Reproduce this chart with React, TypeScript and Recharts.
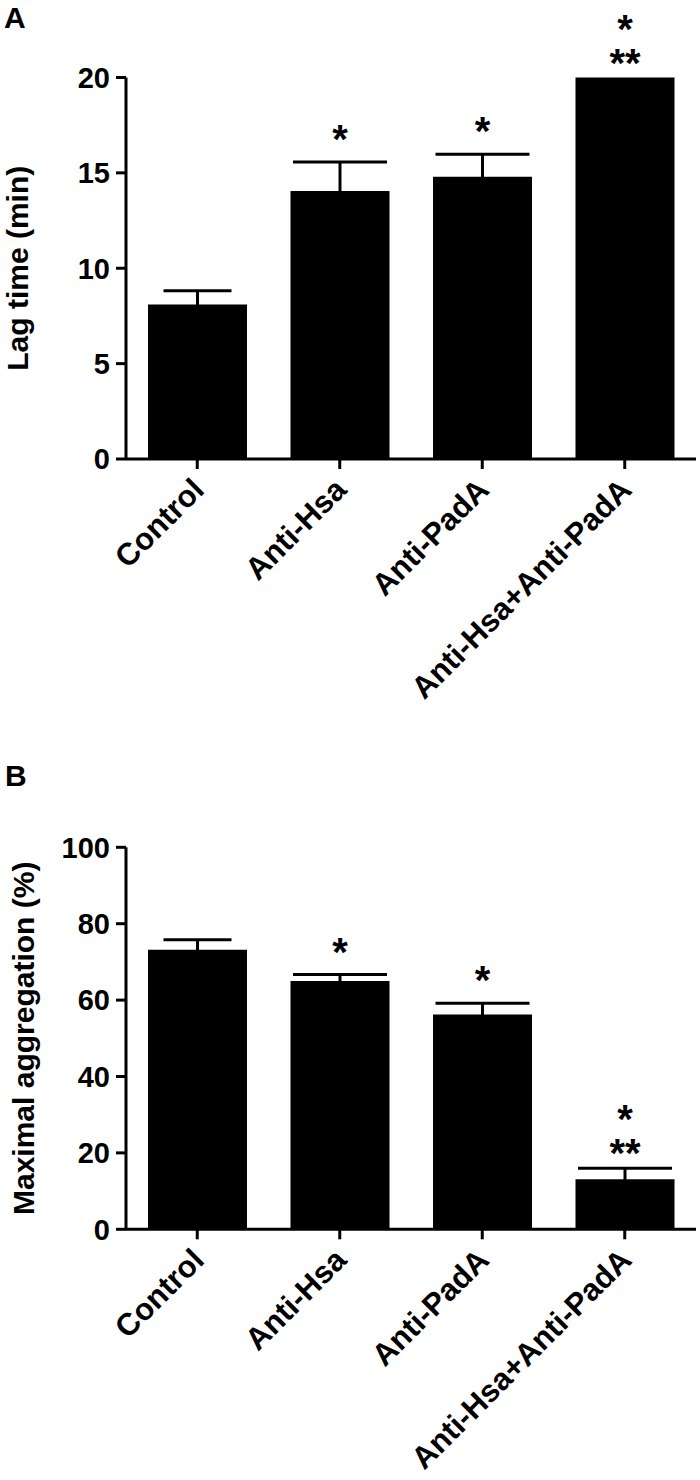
import { BarChart, Bar, XAxis, YAxis, ErrorBar, LabelList, Label } from "recharts";

const FONT = "'Liberation Sans', Arial, Helvetica, sans-serif";

const groups = ["Control", "Anti-Hsa", "Anti-PadA", "Anti-Hsa+Anti-PadA"];

// panel A - lag time (min)
const lagMean = [8.1, 14.05, 14.8, 20];
const lagSem = [0.72, 1.52, 1.18, 0];
const lagStars = [[], ["*"], ["*"], ["*", "**"]];
const lagTicks = [0, 5, 10, 15, 20];

// panel B - maximal aggregation (%)
const aggMean = [73.2, 65.0, 56.2, 13.1];
const aggSem = [2.6, 1.7, 3.0, 2.9];
const aggStars = [[], ["*"], ["*"], ["*", "**"]];
const aggTicks = [0, 20, 40, 60, 80, 100];

// control gets the narrower cap, like the original figure
const buildRows = (mean: number[], sem: number[]) =>
  groups.map((name, i) => ({
    name,
    mean: mean[i],
    semCtrl: i === 0 ? sem[i] : 0,
    semRest: i === 0 ? 0 : sem[i],
  }));

const CatTick = (props: any) => {
  const { x, y, payload } = props;
  return (
    <g transform={`translate(${x},${y})`}>
      <text
        transform="rotate(-45)"
        x={-10}
        y={22}
        textAnchor="end"
        fontFamily={FONT}
        fontWeight="bold"
        fontSize={31}
        fill="#000"
      >
        {payload.value}
      </text>
    </g>
  );
};

// significance marks, stacked in one text element above the error bar
const starContent = (stars: string[][], sem: number[]) => (props: any) => {
  const vb = props.viewBox ?? props;
  const index = props.index;
  const rows = stars[index] ?? [];
  if (!rows.length) return null;
  const h = Math.abs(vb.height);
  const v = Number(props.value);
  const perUnit = v ? h / v : 0;
  const top = vb.y - sem[index] * perUnit;
  const cx = vb.x + vb.width / 2;
  const last = top - (rows.length > 1 ? 20 : 28) + 19;
  const first = last - (rows.length - 1) * 34;
  return (
    <text
      x={cx}
      y={first}
      textAnchor="middle"
      fontFamily={FONT}
      fontWeight="bold"
      fontSize={40}
      fill="#000"
    >
      {rows.map((s, k) => (
        <tspan key={k} x={cx} dy={k === 0 ? 0 : 34}>
          {s}
        </tspan>
      ))}
    </text>
  );
};

const titleContent = (text: string, baseX: number) => (props: any) => {
  const vb = props.viewBox ?? {};
  const cy = (vb.y ?? 0) + (vb.height ?? 0) / 2;
  return (
    <text
      x={baseX}
      y={cy}
      transform={`rotate(-90, ${baseX}, ${cy})`}
      textAnchor="middle"
      fontFamily={FONT}
      fontWeight="bold"
      fontSize={30}
      fill="#000"
    >
      {text}
    </text>
  );
};

const axisStyle = { stroke: "#000", strokeWidth: 3 };
const tickStyle = { fill: "#000", fontSize: 29, fontWeight: "bold", fontFamily: FONT };

type PanelProps = {
  mean: number[];
  sem: number[];
  stars: string[][];
  ticks: number[];
  title: string;
  titleX: number;
  top: number;
  xAxisHeight: number;
};

function Panel({ mean, sem, stars, ticks, title, titleX, top, xAxisHeight }: PanelProps) {
  const rows = buildRows(mean, sem);
  return (
    <BarChart
      width={700}
      height={740}
      data={rows}
      margin={{ top, right: 4, left: 0, bottom: 0 }}
    >
      <XAxis
        dataKey="name"
        interval={0}
        height={xAxisHeight}
        axisLine={axisStyle}
        tickLine={axisStyle}
        tickSize={10}
        tickMargin={0}
        tick={<CatTick />}
      />
      <YAxis
        type="number"
        domain={[ticks[0], ticks[ticks.length - 1]]}
        ticks={ticks}
        width={126}
        axisLine={axisStyle}
        tickLine={axisStyle}
        tickSize={10}
        tickMargin={6}
        tick={tickStyle}
      >
        <Label content={titleContent(title, titleX)} />
      </YAxis>
      <Bar dataKey="mean" fill="#000" barSize={99} isAnimationActive={false}>
        <ErrorBar dataKey="semCtrl" width={34} stroke="#000" strokeWidth={3} direction="y" />
        <ErrorBar dataKey="semRest" width={47} stroke="#000" strokeWidth={3} direction="y" />
        <LabelList dataKey="mean" content={starContent(stars, sem)} />
      </Bar>
    </BarChart>
  );
}

const letterStyle: React.CSSProperties = {
  position: "absolute",
  fontFamily: FONT,
  fontWeight: "bold",
  fontSize: 30,
  lineHeight: 1,
  color: "#000",
};

export default function App() {
  return (
    <div style={{ position: "absolute", left: 0, top: 0, width: 700, height: 1480, background: "#fff" }}>
      <Panel
        mean={lagMean}
        sem={lagSem}
        stars={lagStars}
        ticks={lagTicks}
        title="Lag time (min)"
        titleX={27.5}
        top={77.5}
        xAxisHeight={281}
      />
      <Panel
        mean={aggMean}
        sem={aggSem}
        stars={aggStars}
        ticks={aggTicks}
        title="Maximal aggregation (%)"
        titleX={34}
        top={107.3}
        xAxisHeight={250.7}
      />
      <div style={{ ...letterStyle, left: 4, top: 3 }}>A</div>
      <div style={{ ...letterStyle, left: 5, top: 761 }}>B</div>
    </div>
  );
}
